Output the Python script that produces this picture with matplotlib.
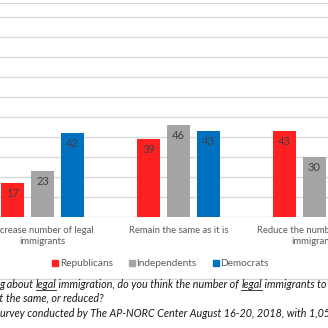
"""Immigration opinion by party: grouped bar chart with source notes."""
import numpy as np
import matplotlib

matplotlib.use("Agg")
import matplotlib.pyplot as plt
from matplotlib.lines import Line2D

categories = [
    "Increase number of legal\nimmigrants",
    "Remain the same as it is",
    "Reduce the number of legal\nimmigrants",
]
parties = ["Republicans", "Independents", "Democrats"]
republicans = [17, 39, 43]
independents = [23, 46, 30]
democrats = [42, 43, 14]
colors = ["#FF2121", "#A5A5A5", "#0070C0"]

question = [
    [("Question: Thinkin", False), ("g about ", False), ("legal", True),
     (" immigration, do you think the number of ", False), ("legal", True),
     (" immigrants to the U.S. should be", False)],
    [("increased, left ", False), ("the same, or reduced?", False)],
    [("Source: S", False),
     ("urvey conducted by The AP-NORC Center August 16-20, 2018, with 1,055 adults.", False)],
]

W = H = 328
fig = plt.figure(figsize=(W / 100, H / 100), dpi=100)
plt.rcParams["font.family"] = ["Lato", "DejaVu Sans"]


def px_box(x0, y_top, x1, y_bot):
    return [x0 / W, 1 - y_bot / H, (x1 - x0) / W, (y_bot - y_top) / H]


# group 0 centre at x=42.5 px, one group = 136 px; y: 0 at 217 px, 2 px per unit
ax = fig.add_axes(px_box(42.5 - 0.5 * 136, 3, 42.5 + 2.5 * 136, 217))
ax.set_xlim(-0.5, 2.5)
ax.set_ylim(0, 107)

x = np.arange(len(categories))
width = 0.173
step = 0.22
for i, (vals, c) in enumerate(zip([republicans, independents, democrats], colors)):
    bars = ax.bar(x + (i - 1) * step, vals, width, color=c, zorder=3)
    for b, v in zip(bars, vals):
        ax.text(b.get_x() + b.get_width() / 2, v - 2.5, f"{v}",
                ha="center", va="top", fontsize=8, color="#404040", zorder=4)

ax.set_yticks(np.arange(0, 101, 10))
ax.yaxis.grid(True, color="#D9D9D9", lw=1)
ax.tick_params(axis="y", left=False, labelleft=False)
ax.set_axisbelow(True)
for s in ["left", "right", "bottom"]:
    ax.spines[s].set_visible(False)
ax.spines["top"].set_color("#D9D9D9")

ax.set_xticks(x)
ax.set_xticklabels(categories, fontsize=6.8, color="#595959", linespacing=1.35)
ax.tick_params(axis="x", length=0, pad=6.5)

handles = [Line2D([], [], marker="s", ls="", color=c, markersize=4.5) for c in colors]
fig.legend(handles, parties, loc="center", bbox_to_anchor=(160 / W, 1 - 264 / H),
           ncol=3, frameon=False, fontsize=7.2, labelcolor="#595959",
           handletextpad=0.05, columnspacing=1.5, handlelength=0.8)

fig.add_artist(Line2D([0, 1], [1 - 279 / H] * 2, color="#D9D9D9", lw=1))

# question and source notes, with underlined words
renderer = fig.canvas.get_renderer()
anchors = [(1, -1.0, 288), (1, 6.0, 301), (1, 0.5, 317)]
for runs, (ai, ax_px, y_px) in zip(question, anchors):
    texts = []
    for s, _ in runs:
        t = fig.text(0, 1 - y_px / H, s, fontsize=7.75, style="italic",
                     color="#1A1A1A", va="baseline", ha="left")
        texts.append(t)
    widths = [t.get_window_extent(renderer).width for t in texts]
    start = ax_px - sum(widths[:ai])
    pos = start
    for t, w, (s, ul) in zip(texts, widths, runs):
        t.set_x(pos / W)
        if ul:
            yl = 1 - (y_px + 1.5) / H
            fig.add_artist(Line2D([pos / W, (pos + w) / W], [yl, yl],
                                  color="#1A1A1A", lw=0.6))
        pos += w

fig.savefig("out.png", dpi=100)
